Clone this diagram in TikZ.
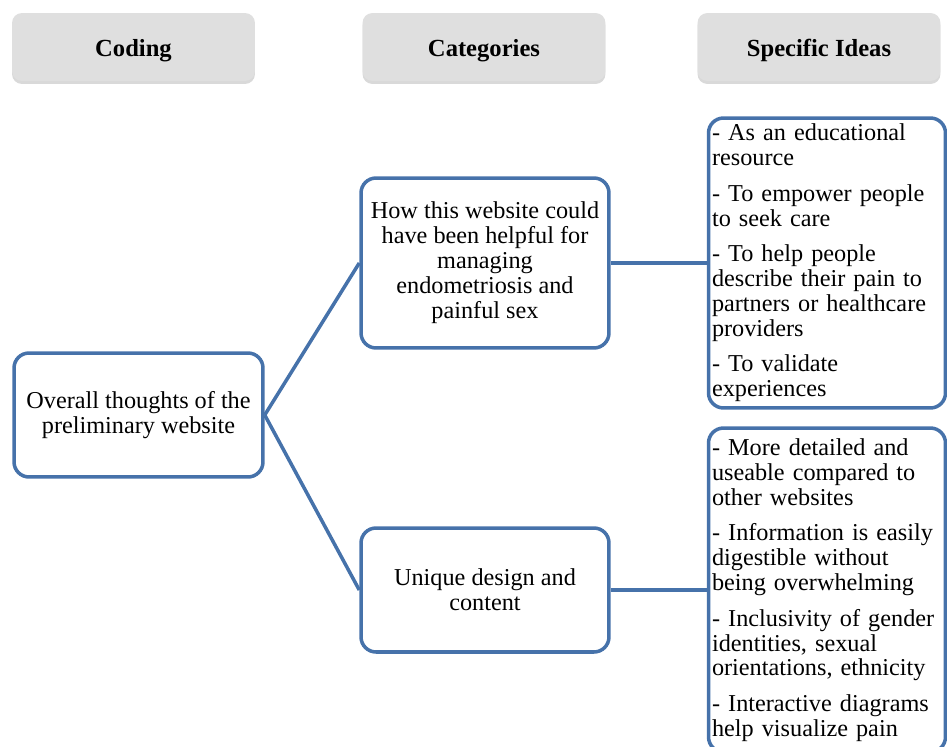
\documentclass[tikz,border=0pt]{standalone}
\usepackage{fontspec}
\setmainfont{Liberation Serif}
\usepackage{tikz}
\usetikzlibrary{shadows}
\definecolor{boxblue}{RGB}{70,114,170}
\definecolor{headgray}{RGB}{223,223,223}

\begin{document}
\begin{tikzpicture}[x=0.02cm,y=-0.02cm,
    head/.style={fill=headgray,rounded corners=0.2cm,minimum width=4.86cm,minimum height=1.36cm,
      text height=12pt,text depth=1pt,font=\fontsize{14}{14.2}\selectfont\bfseries,
      drop shadow={shadow xshift=0pt,shadow yshift=-0.06cm,opacity=0.3}},
    item/.style={draw=boxblue,line width=2pt,rounded corners=0.3cm,fill=white,align=center,
      inner sep=2pt,font=\fontsize{13.8}{14.2}\selectfont},
    ideas/.style={item,align=left,text width=4.6cm,minimum width=4.72cm},
    link/.style={draw=boxblue,line width=2pt}]
    \useasboundingbox (0,0) rectangle (947,747);
    \clip (0,0) rectangle (947,747);
    % column heads
    \node[head] (coding) at (133.5,47) {Coding};
    \node[head] (categories) at (484,47) {Categories};
    \node[head] (ideas) at (819,47) {Specific Ideas};
    % coding
    \node[item,minimum width=4.98cm,minimum height=2.48cm] (overall) at (138.5,415)
      {Overall thoughts of the\\preliminary website};
    % categories
    \node[item,minimum width=4.96cm,minimum height=3.4cm] (helpful) at (485,263)
      {How this website could\\have been helpful for\\managing\\endometriosis and\\painful sex};
    \node[item,minimum width=4.96cm,minimum height=2.48cm] (unique) at (485,590)
      {Unique design and\\content};
    % specific ideas
    \node[ideas,minimum height=5.8cm] (helpfulideas) at (827,263)
      {- As an educational\\resource\\[6pt]- To empower people\\to seek care\\[6pt]- To help people\\describe their pain to\\partners or healthcare\\providers\\[6pt]- To validate\\experiences};
    \node[ideas,minimum height=6.48cm] (uniqueideas) at (827,590)
      {- More detailed and\\useable compared to\\other websites\\[6pt]- Information is easily\\digestible without\\being overwhelming\\[6pt]- Inclusivity of gender\\identities, sexual\\orientations, ethnicity\\[6pt]- Interactive diagrams\\help visualize pain};
    % connectors
    \draw[link] (overall.east) -- (helpful.west);
    \draw[link] (overall.east) -- (unique.west);
    \draw[link] (helpful.east) -- (helpfulideas.west);
    \draw[link] (unique.east) -- (uniqueideas.west);
  \end{tikzpicture}
\end{document}
